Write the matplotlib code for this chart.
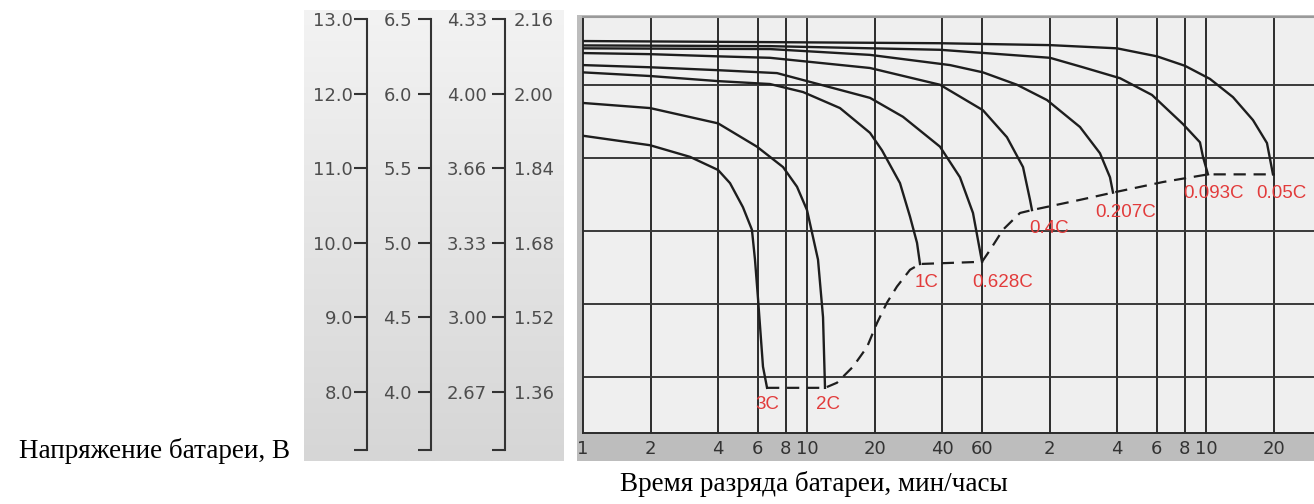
import matplotlib
matplotlib.use('Agg')
import matplotlib.pyplot as plt
import numpy as np
from matplotlib.colors import LinearSegmentedColormap
from matplotlib.ticker import NullLocator

# Voltage scales: 12 V battery, 6 V, 4 V and per cell
volt_12 = [13.0, 12.0, 11.0, 10.0, 9.0, 8.0]
volt_6 = ['6.5', '6.0', '5.5', '5.0', '4.5', '4.0']
volt_4 = ['4.33', '4.00', '3.66', '3.33', '3.00', '2.67']
volt_cell = ['2.16', '2.00', '1.84', '1.68', '1.52', '1.36']

# Time axis (minutes); labels switch to hours after 60 min
time_ticks = [1, 2, 4, 6, 8, 10, 20, 40, 60, 120, 240, 360, 480, 600, 1200]
time_labels = ['1', '2', '4', '6', '8', '10', '20', '40', '60',
               '2', '4', '6', '8', '10', '20']
grid_volts = [8, 9, 10, 11, 12]

# Discharge curves: time in minutes, voltage of a 12 V battery
t_3c = [1, 1.99, 3.0, 4.0, 4.52, 5.16, 5.66, 5.84, 6.03, 6.34, 6.61]
v_3c = [11.31, 11.18, 11.02, 10.84, 10.66, 10.33, 10.02, 9.61, 9.06, 8.14, 7.85]

t_2c = [1, 1.99, 4.0, 5.96, 7.79, 8.99, 9.96, 11.15, 11.74, 11.98]
v_2c = [11.76, 11.69, 11.48, 11.16, 10.88, 10.61, 10.29, 9.61, 8.82, 7.85]

t_1c = [1, 1.99, 4.0, 6.81, 9.56, 13.97, 19.01, 21.5, 25.86, 28.66, 30.8, 31.76]
v_1c = [12.18, 12.13, 12.06, 12.02, 11.91, 11.69, 11.35, 11.11, 10.66, 10.20, 9.84, 9.55]

t_0628 = [1, 1.99, 4.0, 7.32, 19.01, 26.67, 38.99, 47.86, 54.7, 60.0]
v_0628 = [12.28, 12.25, 12.21, 12.17, 11.83, 11.57, 11.16, 10.74, 10.25, 9.58]

t_04 = [1, 1.99, 4.0, 6.81, 19.01, 38.99, 60.6, 77.5, 91.4, 98.2, 100.2]
v_04 = [12.445, 12.43, 12.40, 12.38, 12.24, 12.01, 11.66, 11.29, 10.88, 10.43, 10.29]

t_0207 = [1, 6.81, 19.01, 43.2, 60.6, 85.9, 116.9, 164, 201.3, 223.1, 230.1]
v_0207 = [12.51, 12.50, 12.42, 12.28, 12.18, 12.01, 11.80, 11.43, 11.07, 10.74, 10.53]

t_0093 = [1, 6.81, 38.99, 120.5, 169.1, 247.3, 343.3, 471.9, 561.7, 579.4, 609.9]
v_0093 = [12.55, 12.54, 12.49, 12.38, 12.25, 12.10, 11.87, 11.47, 11.22, 11.02, 10.78]

t_005 = [1, 6.81, 38.99, 120.5, 239.7, 361.4, 481.6, 622.6, 788.1, 967.7, 1117, 1188]
v_005 = [12.61, 12.595, 12.58, 12.554, 12.51, 12.40, 12.27, 12.09, 11.84, 11.525, 11.21, 10.78]

rates = ['3C', '2C', '1C', '0.628C', '0.4C', '0.207C', '0.093C', '0.05C']
curves_t = [t_3c, t_2c, t_1c, t_0628, t_04, t_0207, t_0093, t_005]
curves_v = [v_3c, v_2c, v_1c, v_0628, v_04, v_0207, v_0093, v_005]

# Final discharge voltage line (dashed)
t_end = [6.61, 11.98, 13.55, 15.97, 18.44, 20.43, 22.63, 25.07, 28.66, 31.76,
         60.0, 65.1, 74.4, 88.6, 100.2, 164, 230.1, 384.3, 609.9, 1213]
v_end = [7.85, 7.85, 7.92, 8.14, 8.41, 8.74, 9.02, 9.24, 9.47, 9.55,
         9.58, 9.74, 10.02, 10.25, 10.29, 10.43, 10.53, 10.675, 10.78, 10.78]

# label offsets from curve end, pixels
label_offsets = [(0, -17), (3, -17), (7, -19), (21, -21), (17, -18),
                 (13, -20), (6, -19), (8, -19)]

W, H = 1314, 504
fig = plt.figure(figsize=(W / 100, H / 100), dpi=100)


def rect(x0, y0, x1, y1):
    return [x0 / W, 1 - y1 / H, (x1 - x0) / W, (y1 - y0) / H]


# Left panel with the voltage scales
axl = fig.add_axes(rect(304, 10, 564, 461))
axl.set_xlim(0, 260)
axl.set_ylim(7.07, 13.124)
grad = np.linspace(0, 1, 256).reshape(-1, 1)
cmap = LinearSegmentedColormap.from_list('panel', ['#f3f3f3', '#d6d6d6'])
axl.imshow(grad, cmap=cmap, extent=(0, 260, 7.07, 13.124), aspect='auto',
           origin='upper', zorder=0)
axl.axis('off')

for lx in [63, 127, 201]:
    axl.plot([lx, lx], [7.22, 13.0], color='#333333', lw=1.5, zorder=2)
    axl.hlines(volt_12 + [7.22], lx - 13, lx, color='#333333', lw=1.5, zorder=2)

scale_font = dict(family='DejaVu Sans', fontsize=13, color='#4d4d4d',
                  va='center_baseline')
for v, a, b, c in zip(volt_12, volt_6, volt_4, volt_cell):
    axl.text(49, v, f'{v:.1f}', ha='right', **scale_font)
    axl.text(108, v, a, ha='right', **scale_font)
    axl.text(183, v, b, ha='right', **scale_font)
    axl.text(210, v, c, ha='left', **scale_font)

# Gray frame behind the chart
axbg = fig.add_axes(rect(577, 15, 1314, 461))
axbg.set_facecolor('#bdbdbd')
axbg.set_xticks([])
axbg.set_yticks([])
for s in axbg.spines.values():
    s.set_visible(False)

# Discharge chart
ax = fig.add_axes(rect(583, 17, 1314, 433))
ax.set_facecolor('#efefef')
ax.set_xscale('log')
ax.set_xlim(1, 1810)
ax.set_ylim(7.23, 12.94)

ax.vlines(time_ticks[1:], 7.23, 12.94, color='#2b2b2b', lw=1.4, zorder=1)
ax.hlines(grid_volts, 1, 1810, color='#3a3a3a', lw=1.4, zorder=1)

for name in ['left', 'bottom']:
    ax.spines[name].set_color('#2b2b2b')
    ax.spines[name].set_linewidth(1.4)
ax.spines['top'].set_color('#9a9a9a')
ax.spines['top'].set_linewidth(1.5)
ax.spines['right'].set_visible(False)

ax.set_xticks(time_ticks, time_labels)
ax.xaxis.set_minor_locator(NullLocator())
ax.set_yticks([])
ax.tick_params(axis='x', length=0, pad=5, labelsize=13, labelcolor='#333333')

for t, v in zip(curves_t, curves_v):
    ax.plot(t, v, color='#1e1e1e', lw=1.7, zorder=3, solid_joinstyle='round')

ax.plot(t_end, v_end, color='#1e1e1e', lw=1.6, dashes=(5.5, 3.5), zorder=3)

for name, t, v, off in zip(rates, curves_t, curves_v, label_offsets):
    ax.annotate(name, (t[-1], v[-1]), xytext=off, textcoords='offset pixels',
                ha='center', va='center', color='#e23b3b', fontsize=13.5,
                family='Liberation Sans', zorder=4)

serif = dict(family='Liberation Serif', fontsize=19.5, color='black',
             va='baseline')
fig.text(290 / W, 1 - 458 / H, 'Напряжение батареи, В', ha='right', **serif)
fig.text(814 / W, 1 - 491 / H, 'Время разряда батареи, мин/часы',
         ha='center', **serif)

fig.savefig('out.png', dpi=100)
